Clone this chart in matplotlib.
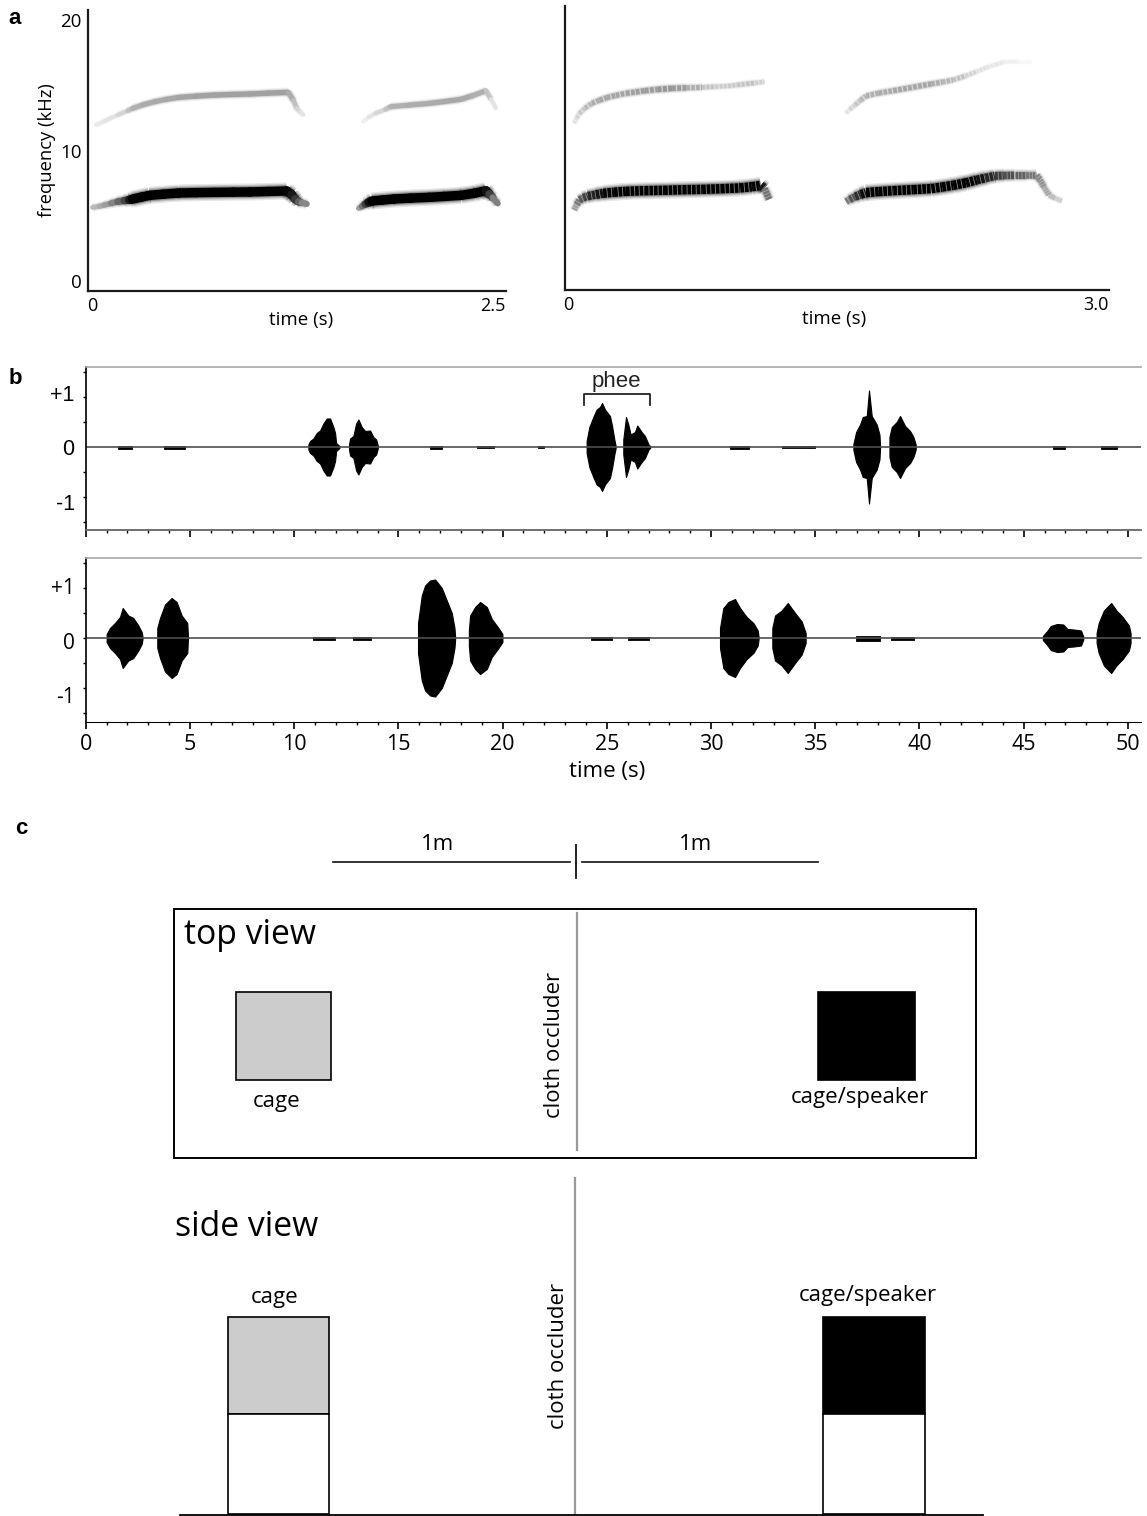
import matplotlib
matplotlib.use("Agg")
import matplotlib.pyplot as plt
import numpy as np
from matplotlib.collections import LineCollection
from matplotlib.patches import Rectangle

W, H = 1147, 1516
MYRIAD = "Open Sans"
ARIAL = "Liberation Sans"

# panel a, left spectrogram: time (s), frequency (kHz), darkness 0-1
la1_t = [0.03, 0.07, 0.10, 0.14, 0.18, 0.22, 0.25, 0.27, 0.32, 0.37, 0.45, 0.545, 0.65, 0.76, 0.87, 0.97, 1.08, 1.19, 1.22, 1.24, 1.26, 1.28, 1.31]
la1_f = [5.64, 5.72, 5.82, 5.95, 6.08, 6.16, 6.22, 6.28, 6.42, 6.56, 6.65, 6.74, 6.77, 6.79, 6.81, 6.82, 6.86, 6.90, 6.62, 6.28, 6.08, 6.00, 5.90]
la1_d = [0.26, 0.30, 0.35, 0.42, 0.55, 0.65, 0.8, 1.0, 1.0, 1.0, 1.0, 1.0, 1.0, 1.0, 1.0, 1.0, 1.0, 1.0, 0.95, 0.85, 0.7, 0.55, 0.4]
la2_t = [1.62, 1.64, 1.66, 1.68, 1.70, 1.76, 1.83, 1.93, 2.04, 2.13, 2.23, 2.31, 2.38, 2.40, 2.42, 2.45]
la2_f = [5.57, 5.72, 5.90, 6.03, 6.13, 6.20, 6.28, 6.35, 6.41, 6.48, 6.56, 6.72, 6.92, 6.66, 6.40, 5.95]
la2_d = [0.3, 0.45, 0.65, 0.85, 1.0, 1.0, 1.0, 1.0, 1.0, 1.0, 1.0, 1.0, 1.0, 0.85, 0.65, 0.35]
lb1_t = [0.05, 0.10, 0.18, 0.24, 0.27, 0.33, 0.40, 0.47, 0.545, 0.65, 0.76, 0.87, 0.97, 1.08, 1.20, 1.23, 1.25, 1.27, 1.29]
lb1_f = [11.95, 12.25, 12.72, 13.05, 13.23, 13.50, 13.74, 13.92, 14.07, 14.17, 14.25, 14.30, 14.33, 14.40, 14.46, 13.85, 13.23, 12.95, 12.72]
lb1_d = [0.08, 0.10, 0.13, 0.20, 0.30, 0.32, 0.33, 0.34, 0.35, 0.36, 0.37, 0.37, 0.37, 0.37, 0.37, 0.28, 0.2, 0.14, 0.08]
lb2_t = [1.645, 1.68, 1.72, 1.78, 1.81, 1.92, 2.04, 2.13, 2.23, 2.30, 2.38, 2.41, 2.44]
lb2_f = [12.21, 12.55, 12.85, 13.15, 13.36, 13.48, 13.61, 13.75, 13.92, 14.20, 14.58, 13.95, 13.23]
lb2_d = [0.05, 0.09, 0.14, 0.18, 0.30, 0.32, 0.33, 0.34, 0.34, 0.33, 0.30, 0.16, 0.06]

# panel a, right spectrogram
ra1_t = [0.05, 0.065, 0.08, 0.10, 0.126, 0.17, 0.21, 0.27, 0.336, 0.44, 0.546, 0.65, 0.756, 0.86, 0.966, 1.03, 1.08, 1.10, 1.126]
ra1_f = [5.44, 5.85, 6.21, 6.38, 6.51, 6.62, 6.72, 6.80, 6.87, 6.92, 6.95, 6.99, 7.02, 7.07, 7.13, 7.22, 7.33, 7.10, 6.26]
ra1_d = [0.3, 0.45, 0.6, 0.7, 0.8, 0.9, 0.95, 1.0, 1.0, 1.0, 1.0, 1.0, 1.0, 1.0, 1.0, 1.0, 1.0, 0.8, 0.3]
ra2_t = [1.55, 1.57, 1.60, 1.63, 1.66, 1.73, 1.81, 1.92, 2.02, 2.08, 2.14, 2.21, 2.27, 2.32, 2.37, 2.42, 2.48, 2.54, 2.60, 2.62, 2.64, 2.67, 2.70, 2.74]
ra2_f = [6.08, 6.25, 6.46, 6.63, 6.77, 6.85, 6.92, 7.00, 7.08, 7.20, 7.33, 7.52, 7.74, 7.90, 8.05, 8.08, 8.10, 8.10, 8.10, 7.75, 7.23, 6.59, 6.36, 6.13]
ra2_d = [0.45, 0.6, 0.75, 0.9, 1.0, 1.0, 1.0, 1.0, 1.0, 1.0, 1.0, 1.0, 0.95, 0.9, 0.8, 0.72, 0.65, 0.58, 0.5, 0.45, 0.4, 0.3, 0.25, 0.15]
rb1_t = [0.05, 0.065, 0.08, 0.11, 0.147, 0.19, 0.23, 0.28, 0.336, 0.39, 0.44, 0.51, 0.59, 0.67, 0.756, 0.83, 0.90, 0.95, 1.00, 1.05, 1.10]
rb1_f = [12.08, 12.50, 12.85, 13.25, 13.61, 13.85, 14.05, 14.22, 14.38, 14.48, 14.58, 14.68, 14.76, 14.80, 14.84, 14.89, 14.94, 15.02, 15.10, 15.18, 15.27]
rb1_d = [0.1, 0.14, 0.2, 0.24, 0.3, 0.34, 0.36, 0.34, 0.36, 0.38, 0.38, 0.40, 0.42, 0.36, 0.28, 0.18, 0.22, 0.20, 0.26, 0.22, 0.16]
rb2_t = [1.55, 1.57, 1.60, 1.63, 1.66, 1.73, 1.81, 1.92, 2.02, 2.08, 2.14, 2.21, 2.27, 2.33, 2.38, 2.42, 2.50, 2.57]
rb2_f = [12.85, 13.15, 13.49, 13.85, 14.18, 14.40, 14.58, 14.85, 15.10, 15.24, 15.40, 15.72, 16.04, 16.38, 16.60, 16.78, 16.80, 16.80]
rb2_d = [0.08, 0.14, 0.2, 0.26, 0.3, 0.32, 0.34, 0.36, 0.34, 0.3, 0.28, 0.2, 0.14, 0.1, 0.1, 0.1, 0.03, 0.03]

# panel b, upper waveform: burst envelopes (time s, amplitude)
up_t = [
    [10.68, 10.76, 10.92, 11.08, 11.24, 11.4, 11.56, 11.72, 11.88, 11.96, 12.01, 12.17],
    [12.63, 12.68, 12.84, 12.97, 13.08, 13.24, 13.4, 13.64, 13.8, 13.93, 14.01],
    [24.03, 24.16, 24.35, 24.51, 24.67, 24.77, 24.91, 25.15, 25.26, 25.36, 25.42],
    [25.79, 25.92, 26.03, 26.14, 26.35, 26.46, 26.67, 26.83, 27.0, 27.08],
    [36.83, 36.96, 37.15, 37.28, 37.47, 37.58, 37.71, 37.95, 38.08, 38.11],
    [38.56, 38.67, 38.91, 39.07, 39.31, 39.55, 39.71, 39.82],
]
up_a = [
    [0.05, 0.12, 0.17, 0.28, 0.33, 0.47, 0.57, 0.57, 0.40, 0.28, 0.08, 0.02],
    [0.05, 0.17, 0.22, 0.47, 0.55, 0.40, 0.32, 0.33, 0.20, 0.15, 0.03],
    [0.12, 0.40, 0.60, 0.75, 0.80, 0.88, 0.75, 0.62, 0.40, 0.15, 0.03],
    [0.15, 0.60, 0.45, 0.25, 0.30, 0.43, 0.30, 0.22, 0.05, 0.02],
    [0.06, 0.30, 0.45, 0.60, 0.62, 1.13, 0.62, 0.45, 0.25, 0.03],
    [0.20, 0.40, 0.50, 0.62, 0.42, 0.32, 0.20, 0.05],
]
up_quiet_start = [1.53, 3.73, 16.5, 18.75, 21.7, 30.93, 33.4, 46.4, 48.7]
up_quiet_end = [2.24, 4.76, 17.1, 19.6, 22.0, 31.84, 35.0, 47.0, 49.5]
up_quiet_a = [0.03, 0.03, 0.03, 0.02, 0.02, 0.03, 0.025, 0.03, 0.03]

# panel b, lower waveform
lo_t = [
    [1.0, 1.16, 1.4, 1.64, 1.77, 2.04, 2.28, 2.52, 2.68, 2.72],
    [3.43, 3.56, 3.8, 4.12, 4.36, 4.6, 4.87, 4.9],
    [15.94, 16.12, 16.28, 16.52, 16.76, 17.08, 17.32, 17.56, 17.69, 17.72],
    [18.38, 18.44, 18.68, 18.92, 19.24, 19.48, 19.8, 19.99],
    [30.43, 30.59, 30.83, 31.15, 31.39, 31.71, 32.03, 32.24, 32.28],
    [32.94, 33.07, 33.39, 33.68, 34.03, 34.35, 34.54],
    [45.92, 46.13, 46.3, 46.6, 46.9, 47.1, 47.4, 47.75, 47.86],
    [48.5, 48.6, 48.85, 49.2, 49.45, 49.75, 50.05, 50.13],
]
lo_a = [
    [0.08, 0.20, 0.30, 0.42, 0.60, 0.45, 0.40, 0.25, 0.12, 0.03],
    [0.20, 0.40, 0.67, 0.80, 0.72, 0.45, 0.30, 0.03],
    [0.30, 0.85, 1.05, 1.15, 1.17, 1.00, 0.75, 0.50, 0.20, 0.03],
    [0.15, 0.45, 0.62, 0.72, 0.62, 0.38, 0.20, 0.08],
    [0.20, 0.60, 0.72, 0.78, 0.60, 0.42, 0.30, 0.15, 0.03],
    [0.20, 0.45, 0.55, 0.70, 0.50, 0.33, 0.10],
    [0.04, 0.14, 0.24, 0.28, 0.27, 0.18, 0.17, 0.15, 0.03],
    [0.10, 0.30, 0.55, 0.70, 0.55, 0.42, 0.25, 0.10],
]
lo_quiet_start = [10.9, 12.8, 24.26, 26.0, 36.96, 38.63]
lo_quiet_end = [11.95, 13.7, 25.26, 27.0, 38.1, 39.73]
lo_quiet_a = [0.03, 0.03, 0.03, 0.03, 0.05, 0.03]

time_ticks = [0, 5, 10, 15, 20, 25, 30, 35, 40, 45, 50]


def px_axes(left, top, right, bottom):
    return fig.add_axes([left / W, 1 - bottom / H, (right - left) / W, (bottom - top) / H], facecolor="none")


def trace(ax, t, f, d, dash=None):
    t, f, d = np.array(t), np.array(f), np.array(d)
    pts = np.column_stack([t, f])
    segs = np.stack([pts[:-1], pts[1:]], axis=1)
    level = (d[:-1] + d[1:]) / 2
    width = (3 + 6.5 * level) * 0.72
    col = np.repeat((1 - level)[:, None], 3, axis=1)
    # soft halo first, then the core
    for grow, alpha in [(1.8, 0.1), (1.5, 0.15), (1.25, 0.25)]:
        ax.add_collection(LineCollection(segs, linewidths=width * grow, colors=col, alpha=alpha, capstyle="butt"))
    if dash is None:
        ax.add_collection(LineCollection(segs, linewidths=width, colors=col, capstyle="round"))
    else:
        ax.add_collection(LineCollection(segs, linewidths=width, colors=col, linestyles=[(0, dash)], capstyle="butt"))


def wave(ax, ts, amps, q0, q1, qa):
    for t, a in zip(ts, amps):
        a = np.array(a)
        ax.fill_between(t, -a, a, color="black", lw=0.8)
    for s, e, a in zip(q0, q1, qa):
        ax.fill_between([s, e], [-a, -a], [a, a], color="black", lw=0.6)
    ax.axhline(0, color="#4f4f4f", lw=1.2)
    ax.set_xlim(0, 50.63)
    ax.set_xticks(time_ticks)
    ax.set_xticks(np.arange(0, 51, 1), minor=True)
    ax.set_yticks(np.arange(-1.5, 1.6, 0.5), minor=True)
    ax.tick_params(axis="x", which="major", length=5, width=1.2)
    ax.tick_params(axis="x", which="minor", length=2.5, width=1)
    ax.tick_params(axis="y", which="major", length=0)
    ax.tick_params(axis="y", which="minor", length=2, width=1)
    ax.spines["right"].set_visible(False)
    ax.spines["left"].set_linewidth(1.2)
    ax.spines["top"].set_color("#a8a8a8")
    ax.spines["top"].set_linewidth(1.2)


fig = plt.figure(figsize=(W / 100, H / 100), dpi=100)

# panel a
ax1 = px_axes(87.5, 10, 506, 291)
trace(ax1, lb1_t, lb1_f, lb1_d)
trace(ax1, lb2_t, lb2_f, lb2_d)
trace(ax1, la1_t, la1_f, la1_d)
trace(ax1, la2_t, la2_f, la2_d)
ax1.set_xlim(0, 2.5)
ax1.set_ylim(-0.77, 20.77)
ax1.set_xticks([0.03, 2.42])
ax1.set_xticklabels(["0", "2.5"], family=MYRIAD, fontsize=13)
ax1.set_yticks([0, 10, 20])
ax1.set_yticklabels(["0", "10", "20"], family=MYRIAD, fontsize=13.5)
ax1.tick_params(length=0, pad=4)
ax1.set_ylabel("frequency (kHz)", family=MYRIAD, fontsize=13.2, labelpad=3.5)

ax2 = px_axes(565, 6, 1109, 290)
trace(ax2, rb1_t, rb1_f, rb1_d, dash=(0.7, 0.25))
trace(ax2, rb2_t, rb2_f, rb2_d, dash=(0.7, 0.25))
trace(ax2, ra1_t, ra1_f, ra1_d, dash=(0.4, 0.08))
trace(ax2, ra2_t, ra2_f, ra2_d, dash=(0.4, 0.08))
ax2.set_xlim(0, 3)
ax2.set_ylim(-0.69, 21.07)
ax2.set_xticks([0.02, 2.93])
ax2.set_xticklabels(["0", "3.0"], family=MYRIAD, fontsize=13)
ax2.set_yticks([])
ax2.tick_params(length=0, pad=4)

for a in [ax1, ax2]:
    a.spines["top"].set_visible(False)
    a.spines["right"].set_visible(False)
    a.spines["left"].set_linewidth(1.6)
    a.spines["bottom"].set_linewidth(1.6)
    a.spines["left"].set_color("#1a1a1a")
    a.spines["bottom"].set_color("#1a1a1a")

# panel b
ax3 = px_axes(85.8, 367, 1141, 530)
wave(ax3, up_t, up_a, up_quiet_start, up_quiet_end, up_quiet_a)
ax3.set_ylim(-1.66, 1.6)
ax3.set_yticks([1.08, 0, -1.1])
ax3.set_yticklabels(["+1", "0", "-1"], family=ARIAL, fontsize=15.5)
ax3.tick_params(axis="y", pad=8)
ax3.set_xticklabels([])
ax3.spines["bottom"].set_color("#666666")
ax3.spines["bottom"].set_linewidth(1.3)
ax3.plot([23.9, 23.9, 27.05, 27.05], [0.84, 1.06, 1.06, 0.84], color="#222222", lw=1.3)
ax3.text(25.47, 1.32, "phee", family=ARIAL, fontsize=16, ha="center", va="center", color="#222222")

ax4 = px_axes(85.8, 558, 1141, 722)
wave(ax4, lo_t, lo_a, lo_quiet_start, lo_quiet_end, lo_quiet_a)
ax4.set_ylim(-1.68, 1.6)
ax4.set_yticks([1.04, -0.06, -1.14])
ax4.set_yticklabels(["+1", "0", "-1"], family=MYRIAD, fontsize=15)
ax4.tick_params(axis="y", pad=8)
ax4.set_xticklabels([str(v) for v in time_ticks], family=MYRIAD, fontsize=15.5)
ax4.tick_params(axis="x", which="major", pad=4)

# panel c and free labels, drawn in picture pixels
ov = fig.add_axes([0, 0, 1, 1], facecolor="none")
ov.set_xlim(0, W)
ov.set_ylim(H, 0)
ov.axis("off")

for s, x, y in [("a", 15, 19), ("b", 15, 378), ("c", 21, 829)]:
    ov.text(x, y, s, family=ARIAL, weight="bold", fontsize=16, ha="center", va="center")

ov.text(301, 320, "time (s)", family=MYRIAD, fontsize=13.5, ha="center", va="center")
ov.text(834, 319, "time (s)", family=MYRIAD, fontsize=13.5, ha="center", va="center")
ov.text(607, 771, "time (s)", family=MYRIAD, fontsize=16, ha="center", va="center")

ov.plot([333, 570], [862, 862], color="#111111", lw=1.2)
ov.plot([582, 818], [862, 862], color="#111111", lw=1.2)
ov.plot([576, 576], [845, 878], color="#111111", lw=1.3)
ov.text(438, 845, "1m", family=MYRIAD, fontsize=16, ha="center", va="center")
ov.text(696, 845, "1m", family=MYRIAD, fontsize=16, ha="center", va="center")

ov.add_patch(Rectangle((174, 909), 802, 249, fc="none", ec="black", lw=1.4))
ov.plot([577, 577], [913, 1150], color="#9a9a9a", lw=1.6)
ov.plot([575, 575], [1178, 1514], color="#9a9a9a", lw=1.6)
ov.text(184, 935, "top view", family=MYRIAD, fontsize=24.3, ha="left", va="center")
ov.text(175, 1227, "side view", family=MYRIAD, fontsize=24.3, ha="left", va="center")
ov.text(554, 1045, "cloth occluder", family=MYRIAD, fontsize=16, rotation=90, ha="center", va="center")
ov.text(558, 1356, "cloth occluder", family=MYRIAD, fontsize=16, rotation=90, ha="center", va="center")

ov.add_patch(Rectangle((236, 992), 95, 88, fc="#cccccc", ec="black", lw=1.2))
ov.add_patch(Rectangle((818, 992), 97, 88, fc="black", ec="black", lw=1.2))
ov.text(277, 1102, "cage", family=MYRIAD, fontsize=16, ha="center", va="center")
ov.text(860, 1098, "cage/speaker", family=MYRIAD, fontsize=16, ha="center", va="center")

ov.add_patch(Rectangle((228, 1317), 101, 97, fc="#cccccc", ec="black", lw=1.2))
ov.add_patch(Rectangle((228, 1414), 101, 100, fc="white", ec="black", lw=1.2))
ov.add_patch(Rectangle((823, 1317), 102, 97, fc="black", ec="black", lw=1.2))
ov.add_patch(Rectangle((823, 1414), 102, 100, fc="white", ec="black", lw=1.2))
ov.text(275, 1297, "cage", family=MYRIAD, fontsize=16, ha="center", va="center")
ov.text(868, 1296, "cage/speaker", family=MYRIAD, fontsize=16, ha="center", va="center")
ov.plot([180, 983], [1515, 1515], color="black", lw=1.3)

fig.savefig("out.png", dpi=100)
